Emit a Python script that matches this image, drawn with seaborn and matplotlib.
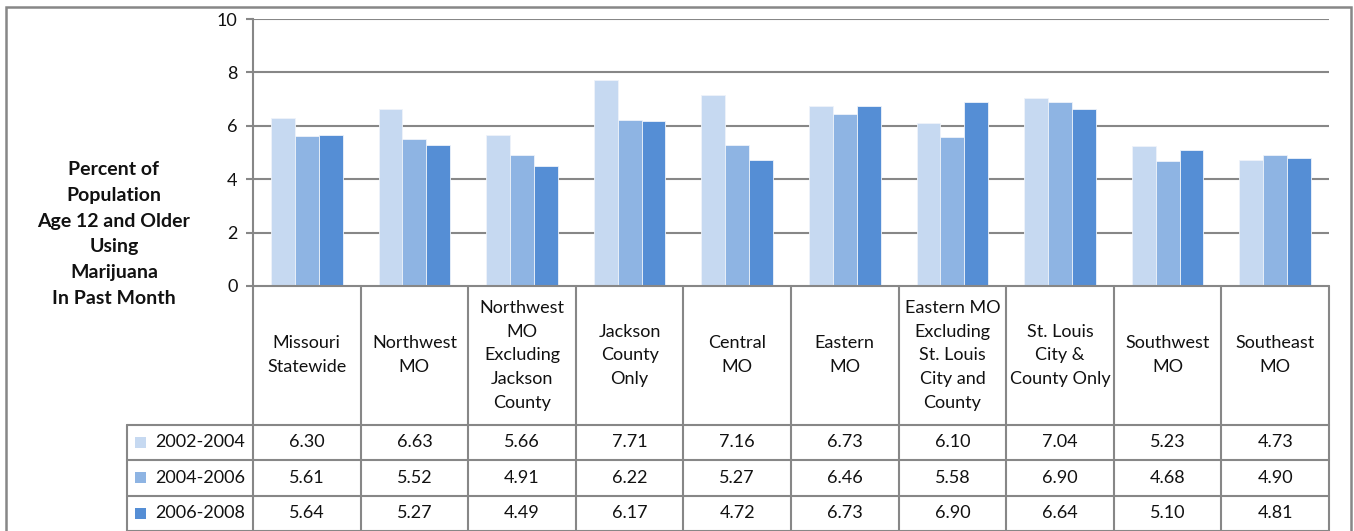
import matplotlib
matplotlib.use("Agg")
import matplotlib.pyplot as plt
from matplotlib.patches import Rectangle
from matplotlib.lines import Line2D
import pandas as pd
import seaborn as sns

# --- data -------------------------------------------------------------
regions = [
    "Missouri\nStatewide",
    "Northwest\nMO",
    "Northwest\nMO\nExcluding\nJackson\nCounty",
    "Jackson\nCounty\nOnly",
    "Central\nMO",
    "Eastern\nMO",
    "Eastern MO\nExcluding\nSt. Louis\nCity and\nCounty",
    "St. Louis\nCity &\nCounty Only",
    "Southwest\nMO",
    "Southeast\nMO",
]
periods = ["2002-2004", "2004-2006", "2006-2008"]
use_2002_2004 = [6.30, 6.63, 5.66, 7.71, 7.16, 6.73, 6.10, 7.04, 5.23, 4.73]
use_2004_2006 = [5.61, 5.52, 4.91, 6.22, 5.27, 6.46, 5.58, 6.90, 4.68, 4.90]
use_2006_2008 = [5.64, 5.27, 4.49, 6.17, 4.72, 6.73, 6.90, 6.64, 5.10, 4.81]
y_ticks = [0, 2, 4, 6, 8, 10]
y_label = "Percent of\nPopulation\nAge 12 and Older\nUsing\nMarijuana\nIn Past Month"

colors = ["#C6D9F1", "#8EB4E3", "#558ED5"]
series = [use_2002_2004, use_2004_2006, use_2006_2008]

df = pd.DataFrame({
    "region": [r for _ in periods for r in regions],
    "period": [p for p in periods for _ in regions],
    "value": [v for s in series for v in s],
})

sns.set_theme(style="white")
plt.rcParams["font.family"] = ["Lato", "DejaVu Sans"]

W, H = 1354, 531
fig = plt.figure(figsize=(W / 100, H / 100), dpi=100)
grey = "#878787"
ink = "#111111"

def fx(px):
    return px / W

def fy(py):
    return 1 - py / H

# chart area
x0, x1 = 253, 1329
ytop, ybot = 19, 286
ax = fig.add_axes([fx(x0), fy(ybot), fx(x1) - fx(x0), fy(ytop) - fy(ybot)])
sns.barplot(data=df, x="region", y="value", hue="period", palette=colors,
            saturation=1, width=0.667, edgecolor="#EEF3FA", linewidth=0.6,
            ax=ax, legend=False, zorder=3)
ax.set_xlim(-0.5, len(regions) - 0.5)
ax.set_ylim(0, 10)
ax.set_yticks(y_ticks)
ax.set_yticklabels([str(t) for t in y_ticks], fontsize=13, color=ink)
ax.set_xticks([])
ax.set_xlabel("")
ax.set_ylabel("")
for s in ["top", "right", "bottom"]:
    ax.spines[s].set_visible(False)
ax.spines["left"].set_color(grey)
ax.spines["left"].set_linewidth(1.5)
ax.tick_params(axis="y", length=5, width=1.5, color=grey, pad=6, left=True)
for t in y_ticks[1:]:
    ax.axhline(t, color=grey, lw=1.5, zorder=1)

# data table beneath the chart
row_h = 35.5
hdr_h = 139.0
n_rows = len(periods)
tab = fig.add_axes([fx(x0), 0, fx(x1) - fx(x0), fy(ybot)])
tab.set_xlim(-0.5, len(regions) - 0.5)
tab.set_ylim((hdr_h + n_rows * row_h) / row_h, 0)
tab.axis("off")
hdr = hdr_h / row_h
unit = (x1 - x0) / len(regions)
leg_left = -0.5 - (x0 - 127) / unit
bottom = hdr + n_rows

lk = dict(color=grey, lw=1.5, clip_on=False)
# vertical lines
for i in range(len(regions) + 1):
    tab.add_line(Line2D([i - 0.5, i - 0.5], [0, bottom], **lk))
tab.add_line(Line2D([leg_left, leg_left], [hdr, bottom], **lk))
# horizontal lines
tab.add_line(Line2D([-0.5, len(regions) - 0.5], [0, 0], **lk))
for r in range(n_rows + 1):
    tab.add_line(Line2D([leg_left, len(regions) - 0.5], [hdr + r, hdr + r], **lk))

for i, name in enumerate(regions):
    tab.text(i, hdr / 2, name, ha="center", va="center", fontsize=13,
             linespacing=1.6, color=ink)

sq = 11 / row_h
for r, (p, vals, c) in enumerate(zip(periods, series, colors)):
    yc = hdr + r + 0.5
    tab.add_patch(Rectangle((leg_left + 8 / unit, yc - sq / 2), 11 / unit, sq,
                            facecolor=c, edgecolor="none", clip_on=False))
    tab.text(leg_left + 28 / unit, yc, p, ha="left", va="center",
             fontsize=13, color=ink, clip_on=False)
    for i, v in enumerate(vals):
        tab.text(i, yc, f"{v:.2f}", ha="center", va="center", fontsize=13,
                 color=ink)

# y-axis title
fig.text(fx(114), fy(234), y_label, ha="center", va="center", fontsize=14,
         fontweight="bold", linespacing=1.63, color=ink)

# outer frame
fig.add_artist(Rectangle((fx(6), fy(540)), fx(1351) - fx(6), fy(7) - fy(540),
                         transform=fig.transFigure, fill=False,
                         edgecolor=grey, lw=1.8))

fig.savefig("out.png", dpi=100)
